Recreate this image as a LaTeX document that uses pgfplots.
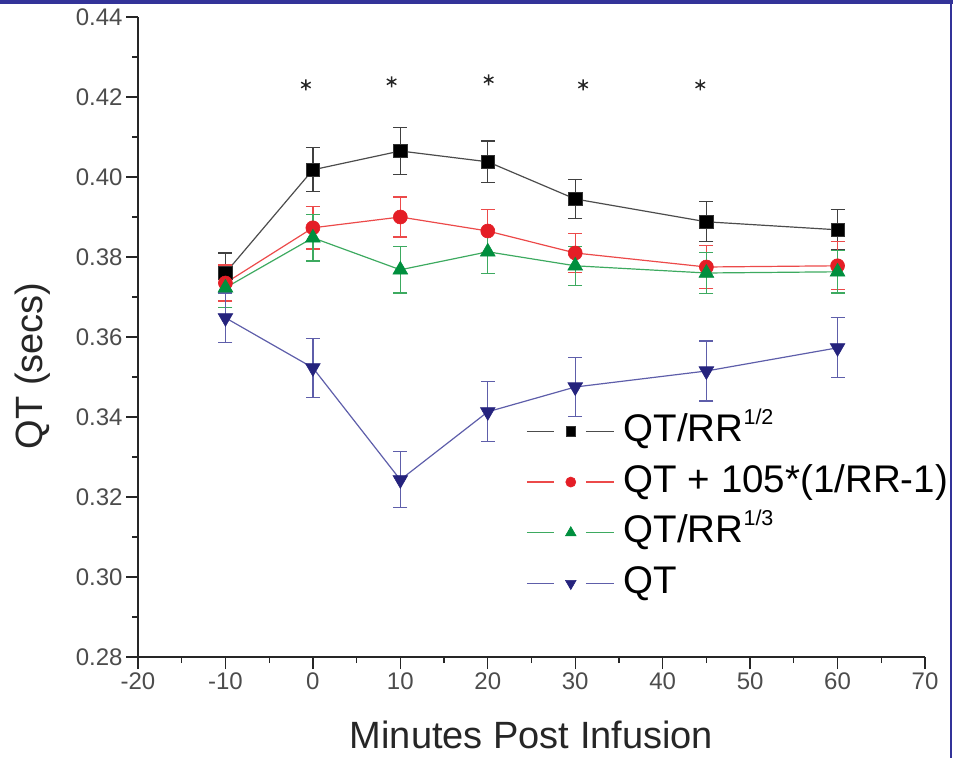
\documentclass[border=0pt]{standalone}
\usepackage{pgfplots}
\pgfplotsset{compat=1.18}
\usepackage{fontspec}
\setmainfont{Liberation Sans}

\definecolor{frameblue}{HTML}{333399}
\definecolor{sred}{HTML}{E41E26}
\definecolor{sredl}{HTML}{EC4A4A}
\definecolor{sgreen}{HTML}{008F3E}
\definecolor{sgreenl}{HTML}{3DAA60}
\definecolor{sblue}{HTML}{25237D}
\definecolor{sbluel}{HTML}{5E5EAA}

\newcommand{\supx}[1]{\raisebox{0.85ex}{\fontsize{21.5}{21.5}\selectfont #1}}

\begin{document}
\begin{tikzpicture}
\begin{axis}[
    scale only axis,
    width=787pt, height=640pt,
    xmin=-20, xmax=70,
    ymin=0.28, ymax=0.44,
    xtick={-20,-10,0,10,20,30,40,50,60,70},
    ytick={0.28,0.30,0.32,0.34,0.36,0.38,0.40,0.42,0.44},
    minor x tick num=1, minor y tick num=1,
    axis x line=bottom, axis y line=left,
    axis line style={-, line width=1.3pt, black!85},
    tick align=outside,
    major tick length=12pt, minor tick length=6pt,
    tick style={line width=1.3pt, black!85},
    /pgf/number format/assume math mode=true,
    yticklabel style={/pgf/number format/.cd, fixed, fixed zerofill, precision=2},
    ticklabel style={font=\fontsize{24}{24}\selectfont, text=black!70},
    xlabel={Minutes Post Infusion},
    ylabel={QT (secs)},
    label style={font=\fontsize{38}{42}\selectfont, text=black!85},
    xlabel style={at={(axis description cs:0.5,0)}, anchor=center, yshift=-78pt},
    ylabel style={at={(axis description cs:0,0.455)}, anchor=center, yshift=105pt},
    legend style={
        at={(0.493,0.381)}, anchor=north west,
        draw=none, fill=none, inner sep=0pt,
        font=\fontsize{38.5}{38.5}\selectfont,
        nodes={inner sep=0pt, text height=28pt, text depth=8pt},
        row sep=14.7pt
    },
    legend cell align=left,
    legend image code/.code={
        \draw[#1, mark=none] (0pt,0pt) -- (27pt,0pt);
        \draw[#1, mark=none] (59pt,0pt) -- (87pt,0pt);
        \draw[#1, only marks, every mark/.append style={scale=0.72}] plot coordinates {(44pt,0pt)};
        \path[draw=none, fill=none, mark=none] (0pt,0pt) -- (97pt,0pt);
    },
]
\coordinate (SW) at (rel axis cs:0,0);
\coordinate (NE) at (rel axis cs:1,1);

% QT/RR^1/2
\addplot[line width=1.2pt, black!70, mark=square*, mark size=6.7pt,
    mark options={fill=black, draw=black!80, line width=0.6pt},
    error bars/.cd, y dir=both, y explicit,
    error bar style={line width=1.3pt, black!75},
    error mark options={rotate=90, mark size=7pt, line width=1.3pt, black!75}]
coordinates {
    (-10,0.3760) +- (0,0.0050)
    (0,0.4018)   +- (0,0.0055)
    (10,0.4065)  +- (0,0.0059)
    (20,0.4038)  +- (0,0.0052)
    (30,0.3945)  +- (0,0.0049)
    (45,0.3888)  +- (0,0.0050)
    (60,0.3868)  +- (0,0.0050)
};

% QT + 105*(1/RR-1)
\addplot[line width=1.2pt, sredl, mark=*, mark size=7pt,
    mark options={fill=sred, draw=sred, line width=0.6pt},
    error bars/.cd, y dir=both, y explicit,
    error bar style={line width=1.3pt, sredl},
    error mark options={rotate=90, mark size=7pt, line width=1.3pt, sredl}]
coordinates {
    (-10,0.3735) +- (0,0.0045)
    (0,0.3873)   +- (0,0.0053)
    (10,0.3900)  +- (0,0.0050)
    (20,0.3865)  +- (0,0.0053)
    (30,0.3810)  +- (0,0.0048)
    (45,0.3775)  +- (0,0.0054)
    (60,0.3778)  +- (0,0.0060)
};

% QT/RR^1/3
\addplot[line width=1.2pt, sgreenl, mark=triangle*, mark size=8.5pt,
    mark options={fill=sgreen, draw=sgreen, line width=0.6pt},
    error bars/.cd, y dir=both, y explicit,
    error bar style={line width=1.3pt, sgreenl},
    error mark options={rotate=90, mark size=7pt, line width=1.3pt, sgreenl}]
coordinates {
    (-10,0.3723) +- (0,0.0050)
    (0,0.3848)   +- (0,0.0058)
    (10,0.3768)  +- (0,0.0058)
    (20,0.3813)  +- (0,0.0055)
    (30,0.3778)  +- (0,0.0049)
    (45,0.3760)  +- (0,0.0051)
    (60,0.3763)  +- (0,0.0053)
};

% QT
\addplot[line width=1.2pt, sbluel, mark=triangle*, mark size=8.5pt,
    mark options={rotate=180, fill=sblue, draw=sblue, line width=0.6pt},
    error bars/.cd, y dir=both, y explicit,
    error bar style={line width=1.3pt, sbluel},
    error mark options={rotate=90, mark size=7pt, line width=1.3pt, sbluel}]
coordinates {
    (-10,0.3648) +- (0,0.0062)
    (0,0.3523)   +- (0,0.0074)
    (10,0.3243)  +- (0,0.0070)
    (20,0.3413)  +- (0,0.0075)
    (30,0.3475)  +- (0,0.0073)
    (45,0.3515)  +- (0,0.0075)
    (60,0.3573)  +- (0,0.0075)
};

% significance stars
\addplot[only marks, mark=asterisk, mark size=5.5pt, black!85,
    mark options={line width=1.4pt}, forget plot]
coordinates {(-0.8,0.4230) (9,0.4238) (20.1,0.4243) (30.9,0.4230) (44.3,0.4230)};

\legend{QT/RR\supx{1/2}, QT + 105*(1/RR-1), QT/RR\supx{1/3}, QT}
\end{axis}
\pgfresetboundingbox
\coordinate (A) at ([shift={(-138pt,-101pt)}]SW);
\coordinate (B) at ([shift={(28pt,17pt)}]NE);
\path[use as bounding box] (A) rectangle (B);
\fill[frameblue] (A|-B) rectangle ([yshift=-4.5pt]B);
\fill[frameblue] ([xshift=-3pt]B) rectangle ([xshift=-1pt]B|-A);
\end{tikzpicture}
\end{document}
